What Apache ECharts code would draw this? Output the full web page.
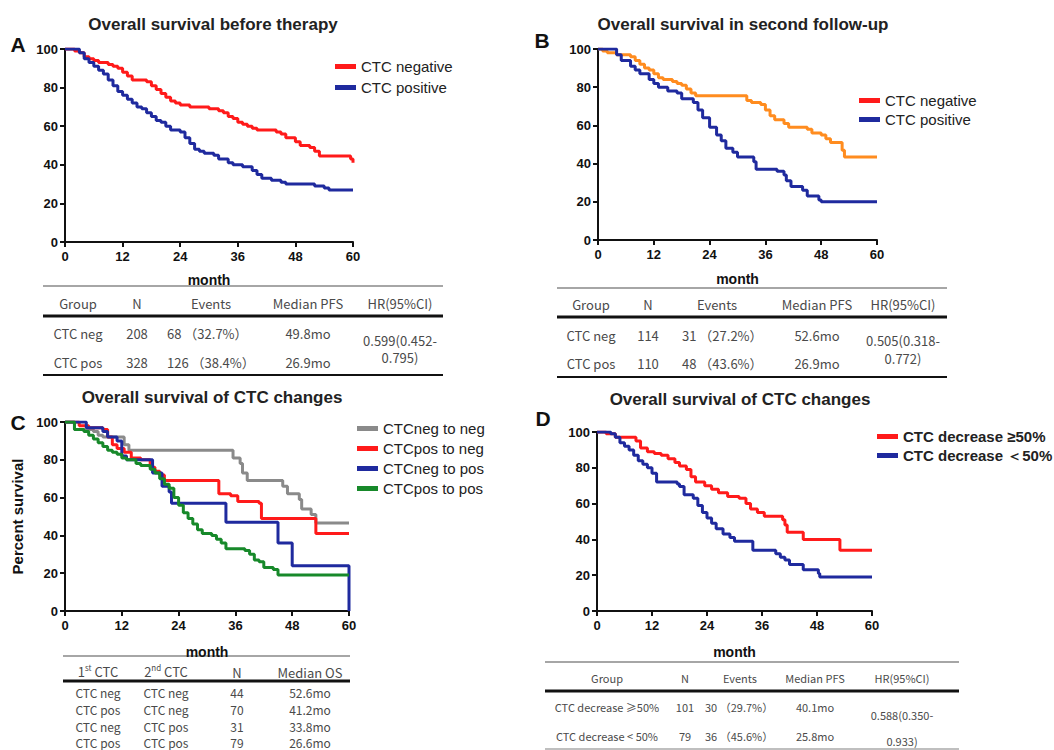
<!DOCTYPE html>
<html>
<head>
<meta charset="utf-8">
<script src="https://cdn.jsdelivr.net/npm/echarts@6/dist/echarts.min.js"></script>
<style>
html, body { margin: 0; padding: 0; background: #fff; }
#mainChart { width: 1054px; height: 750px; }
</style>
</head>
<body>
<div id="mainChart"></div>
<script>
// survival curves: [month, percent survival] after each event
var aNegative = [[0,100],[2,99],[3,98],[4,96],[5,95],[6,94],[7,93],[9,92],[10,91],[11,90],[12,88],[13,86],[14,84],[17,83],[18,81],[19,79],[20,77],[21,75],[22,73],[23,72],[24,71],[26,70],[30,69],[32,68],[33,67],[34,65],[35,64],[36,62],[37,61],[38,60],[39,59],[40,58],[44,57],[45,56],[46,54],[48,52],[49,50],[51,49],[52,47],[53,44.5],[59.5,43],[60,41]];
var aPositive = [[0,100],[2,100],[3,98],[4,95],[5,93],[6,91],[7,89],[8,87],[9,84],[10,81],[11,78],[12,76],[13,74],[14,72],[15,70],[16,69],[17,67],[18,65],[19,63],[20,62],[21,60],[22,58],[24,57],[25,54],[26,51],[27,48],[28,47],[29,46],[31,45],[32,43],[34,41],[35,40],[37,39],[39,37],[40,35],[41,33],[43,32],[45,31],[46,30],[52,29],[54,28],[55,27],[60,27]];

var bNegative = [[0,100],[1,99],[2,98],[4,97],[7,96],[8,94],[9,92],[10,90],[11,89],[12,87],[13,85],[14,84],[16,83],[17,82],[18,81],[19,79],[20,77],[21,75.5],[32,73],[33,72],[35,71],[36,68],[37,65],[38,63],[40,61],[41,59],[45,58],[46,56],[48,55],[49,53],[50,51],[52.5,47],[53,43.5],[60,43.5]];
var bPositive = [[0,100],[2,100],[4,97],[5,94],[7,91],[8,89],[9,87],[11,84],[12,82],[13,80],[15,78],[17,77],[18,74],[20.5,72],[21.5,68],[22.5,64],[24,59],[25.5,55],[26.5,52],[27.5,48],[29,46],[30,43.5],[33.5,41],[34,37],[38.5,36],[40,34],[40.5,31],[41.5,28],[44,26],[45,23],[47.5,21],[48,20],[60,20]];

var cNegToNeg = [[0,100],[2,96],[6,95],[7,93],[8,92],[12.5,88],[13.5,85],[35.5,81],[37,78],[37.5,73],[38.5,69],[46,66],[47,62],[49.5,59],[50,54],[52,51],[53,46.5],[60,46.5]];
var cPosToNeg = [[0,100],[3,98],[5,97],[8,96],[9,92],[10,88],[11,86],[12.5,84],[14,81],[16,80],[18,76],[19,74],[20,72],[21,69],[32.5,62],[35,61],[36.5,58],[41,57],[41.5,49],[53,41],[60,41]];
var cNegToPos = [[0,100],[4,100],[4.5,97],[8,95],[9,92],[11,90],[12,82],[13,80],[18,80],[18.5,73],[20.5,66],[22,63],[22.5,57],[34,47],[45,36],[48,24],[60,24],[60,0]];
var cPosToPos = [[0,100],[2,96],[4,95],[5,93],[6,91],[7,89],[8,87],[9,85],[10,84],[11,83],[12,81],[13,80],[15,78],[16,77],[18,75],[19,73],[20,70],[21,67],[22,65],[23,60],[24,56],[25,52],[26,49],[27,46],[28,43],[29,41],[31,40],[32,38],[33,36],[34,33],[37,33],[38,32],[39,30],[40,27],[41,26],[42,23],[44,22],[45,19],[60,19]];

var dHigh = [[0,100],[2,99],[4,97],[8.5,95],[9.5,91],[11,89],[12.5,88],[14,87],[15.5,85],[17,83],[18,81],[19.5,79],[20.5,75],[21.5,72],[23.5,70],[25,68],[26.5,66],[28.5,64],[31,63],[32.5,60],[33.5,57],[35,55],[36.5,53],[40.5,51],[41,48],[41.5,44],[45,40],[53,34],[60,34]];
var dLow = [[0,100],[2,100],[3,99],[4,97],[5,94],[6,92],[7,90],[8,87],[9,84],[10,82],[11,80],[12,77],[13,72],[17.5,71],[18,69.5],[19,65],[21,63],[22,59],[23,55],[24,52],[25,49],[26,46],[27.5,43],[29,41],[30,39],[34,34],[39,32],[40,30],[41,28.5],[42,26],[45,23],[48.3,21],[48.6,19],[60,19]];

// tables
var tableHead = ["Group", "N", "Events", "Median PFS", "HR(95%CI)"];
var tableAGroups = ["CTC neg", "CTC pos"];
var tableAN = ["208", "328"];
var tableAEvents = ["68 （32.7%）", "126 （38.4%）"];
var tableAMedian = ["49.8mo", "26.9mo"];
var tableAHR = ["0.599(0.452-", "0.795)"];

var tableBGroups = ["CTC neg", "CTC pos"];
var tableBN = ["114", "110"];
var tableBEvents = ["31 （27.2%）", "48 （43.6%）"];
var tableBMedian = ["52.6mo", "26.9mo"];
var tableBHR = ["0.505(0.318-", "0.772)"];

var tableCFirst = ["CTC neg", "CTC pos", "CTC neg", "CTC pos"];
var tableCSecond = ["CTC neg", "CTC neg", "CTC pos", "CTC pos"];
var tableCN = ["44", "70", "31", "79"];
var tableCMedian = ["52.6mo", "41.2mo", "33.8mo", "26.6mo"];

var tableDGroups = ["CTC decrease ≥50%", "CTC decrease < 50%"];
var tableDN = ["101", "79"];
var tableDEvents = ["30 （29.7%）", "36 （45.6%）"];
var tableDMedian = ["40.1mo", "25.8mo"];
var tableDHR = ["0.588(0.350-", "0.933)"];

var RED = "#ff1a1a", BLUE = "#1f2a9e", ORANGE = "#ff8c1f", GRAY = "#8a8a8a", GREEN = "#17892a";
var SANS = "Liberation Sans";
var CJK = "Noto Sans CJK SC";

var myChart = echarts.init(document.getElementById("mainChart"), null, { renderer: "svg" });

function txt(x, y, s, size, extra) {
    var st = {
        text: s, fontSize: size, fontFamily: CJK, fill: "#4a4a4a",
        align: "center", verticalAlign: "middle"
    };
    for (var k in extra) st[k] = extra[k];
    return { type: "text", x: x, y: y, style: st, silent: true };
}
function hline(x1, x2, y, w, color) {
    return { type: "line", shape: { x1: x1, y1: y, x2: x2, y2: y }, style: { stroke: color, lineWidth: w }, silent: true };
}

var graphics = [];
// panel letters
var letterStyle = { fontFamily: SANS, fontWeight: "bold", fill: "#111" };
graphics.push(txt(18, 44, "A", 21, letterStyle));
graphics.push(txt(542, 40, "B", 21, letterStyle));
graphics.push(txt(18, 422, "C", 21, letterStyle));
graphics.push(txt(543, 418, "D", 21, letterStyle));

// table A
var colA = [78, 137, 211, 308, 400];
graphics.push(hline(43, 443, 286, 1.5, "#888"));
graphics.push(hline(43, 443, 316, 3, "#111"));
graphics.push(hline(43, 443, 375, 2, "#111"));
tableHead.forEach(function (h, i) { graphics.push(txt(colA[i], 303, h, 13)); });
[333, 362].forEach(function (y, r) {
    graphics.push(txt(colA[0], y, tableAGroups[r], 13));
    graphics.push(txt(colA[1], y, tableAN[r], 13));
    graphics.push(txt(167, y, tableAEvents[r], 13, { align: "left" }));
    graphics.push(txt(colA[3], y, tableAMedian[r], 13));
});
graphics.push(txt(colA[4], 340, tableAHR[0], 13));
graphics.push(txt(colA[4], 357, tableAHR[1], 13));

// table B
var colB = [591, 648, 717, 817, 903];
graphics.push(hline(557, 947, 288, 1.5, "#888"));
graphics.push(hline(557, 947, 317, 3, "#111"));
graphics.push(hline(557, 947, 377, 2, "#111"));
tableHead.forEach(function (h, i) { graphics.push(txt(colB[i], 304, h, 13)); });
[335, 363].forEach(function (y, r) {
    graphics.push(txt(colB[0], y, tableBGroups[r], 13));
    graphics.push(txt(colB[1], y, tableBN[r], 13));
    graphics.push(txt(682, y, tableBEvents[r], 13, { align: "left" }));
    graphics.push(txt(colB[3], y, tableBMedian[r], 13));
});
graphics.push(txt(colB[4], 340, tableBHR[0], 13));
graphics.push(txt(colB[4], 358, tableBHR[1], 13));

// table C (last row sits right at the bottom edge, as in the source figure)
var colC = [98, 166, 237, 310];
graphics.push(hline(63, 350, 656, 1.5, "#888"));
graphics.push(hline(63, 350, 681, 3, "#111"));
var supRich = { n: { fontSize: 13, fontFamily: CJK, fill: "#4a4a4a" }, s: { fontSize: 8, fontFamily: CJK, fill: "#4a4a4a", verticalAlign: "top", padding: [0, 0, 8, 0] } };
graphics.push(txt(colC[0], 671, "{n|1}{s|st}{n| CTC}", 13, { rich: supRich }));
graphics.push(txt(colC[1], 671, "{n|2}{s|nd}{n| CTC}", 13, { rich: supRich }));
graphics.push(txt(colC[2], 672, "N", 13));
graphics.push(txt(colC[3], 672, "Median OS", 13));
[692, 709, 726, 742].forEach(function (y, r) {
    graphics.push(txt(colC[0], y, tableCFirst[r], 12, { lineHeight: 15 }));
    graphics.push(txt(colC[1], y, tableCSecond[r], 12, { lineHeight: 15 }));
    graphics.push(txt(colC[2], y, tableCN[r], 12, { lineHeight: 15 }));
    graphics.push(txt(colC[3], y, tableCMedian[r], 12, { lineHeight: 15 }));
});

// table D
var colD = [607, 685, 740, 815, 902];
graphics.push(hline(545, 959, 662, 1.5, "#888"));
graphics.push(hline(545, 959, 691, 3, "#111"));
graphics.push(hline(545, 959, 749, 1.5, "#aaa"));
tableHead.forEach(function (h, i) { graphics.push(txt(colD[i], 678, h, 11)); });
[707, 736].forEach(function (y, r) {
    graphics.push(txt(colD[0], y, tableDGroups[r], 11));
    graphics.push(txt(colD[1], y, tableDN[r], 11));
    graphics.push(txt(705, y, tableDEvents[r], 11, { align: "left" }));
    graphics.push(txt(colD[3], y, tableDMedian[r], 11));
});
graphics.push(txt(colD[4], 715, tableDHR[0], 11));
graphics.push(txt(colD[4], 741, tableDHR[1], 11));

var grids = [
    { left: 65, top: 49, width: 288, height: 193 },
    { left: 598, top: 49, width: 279, height: 191 },
    { left: 65, top: 422, width: 284, height: 189 },
    { left: 597, top: 432, width: 275, height: 179 }
];

function xAx(i, gap) {
    return {
        gridIndex: i, type: "value", min: 0, max: 60, interval: 12,
        name: "month", nameLocation: "middle", nameGap: gap,
        nameTextStyle: { fontFamily: SANS, fontWeight: "bold", fontSize: 14, color: "#111" },
        axisLine: { lineStyle: { color: "#111", width: 2 } },
        axisTick: { length: 5, lineStyle: { width: 2 } },
        axisLabel: { margin: 8, fontFamily: SANS, fontWeight: "bold", fontSize: 13, color: "#111" },
        splitLine: { show: false }
    };
}
function yAx(i, name) {
    return {
        gridIndex: i, type: "value", min: 0, max: 100, interval: 20,
        name: name || "", nameLocation: "middle", nameGap: 40,
        nameTextStyle: { fontFamily: SANS, fontWeight: "bold", fontSize: 15, color: "#111" },
        axisLine: { show: true, lineStyle: { color: "#111", width: 2 } },
        axisTick: { show: true, length: 5, lineStyle: { width: 2 } },
        axisLabel: { margin: 7, fontFamily: SANS, fontWeight: "bold", fontSize: 13, color: "#111" },
        splitLine: { show: false }
    };
}
function km(name, data, panel, color, lineColor) {
    return {
        name: name, type: "line", step: "end", data: data,
        xAxisIndex: panel, yAxisIndex: panel,
        showSymbol: false, silent: true, animation: false,
        itemStyle: { color: color },
        lineStyle: { color: lineColor || color, width: 3 }
    };
}
function legendAt(left, top, names, colors, gap, bold) {
    return {
        left: left, top: top, orient: "vertical", icon: "rect",
        itemWidth: 21, itemHeight: 5, itemGap: gap,
        textStyle: { fontFamily: SANS, fontSize: 15, color: "#222", fontWeight: bold ? "bold" : "normal" },
        data: names.map(function (n, i) { return { name: n, itemStyle: { color: colors[i] } }; }),
        selectedMode: false
    };
}
var titleStyle = { fontFamily: SANS, fontWeight: "bold", fontSize: 17, color: "#222" };

var option = {
    backgroundColor: "#fff",
    animation: false,
    title: [
        { text: "Overall survival before therapy", left: 208, top: 11, textAlign: "center", textStyle: titleStyle },
        { text: "Overall survival in second follow-up", left: 738, top: 11, textAlign: "center", textStyle: titleStyle },
        { text: "Overall survival of CTC changes", left: 207, top: 384, textAlign: "center", textStyle: titleStyle },
        { text: "Overall survival of CTC changes", left: 735, top: 386, textAlign: "center", textStyle: titleStyle }
    ],
    legend: [
        legendAt(330, 54, ["CTC negative", "CTC positive"], [RED, BLUE], 6),
        legendAt(854, 88, ["CTC negative", "CTC positive"], [RED, BLUE], 4),
        legendAt(352, 416, ["CTCneg to neg", "CTCpos to neg", "CTCneg to pos", "CTCpos to pos"], [GRAY, RED, BLUE, GREEN], 5),
        legendAt(872, 424, ["CTC decrease ≥50%", "CTC decrease ＜50%"], [RED, BLUE], 4, true)
    ],
    grid: grids,
    xAxis: [xAx(0, 31), xAx(1, 32), xAx(2, 34), xAx(3, 34)],
    yAxis: [yAx(0), yAx(1), yAx(2, "Percent survival"), yAx(3)],
    series: [
        km("CTC negative", aNegative, 0, RED),
        km("CTC positive", aPositive, 0, BLUE),
        km("CTC negative", bNegative, 1, RED, ORANGE),
        km("CTC positive", bPositive, 1, BLUE),
        km("CTCneg to neg", cNegToNeg, 2, GRAY),
        km("CTCpos to neg", cPosToNeg, 2, RED),
        km("CTCneg to pos", cNegToPos, 2, BLUE),
        km("CTCpos to pos", cPosToPos, 2, GREEN),
        km("CTC decrease ≥50%", dHigh, 3, RED),
        km("CTC decrease ＜50%", dLow, 3, BLUE)
    ],
    graphic: graphics
};
myChart.setOption(option);
</script>
</body>
</html>
